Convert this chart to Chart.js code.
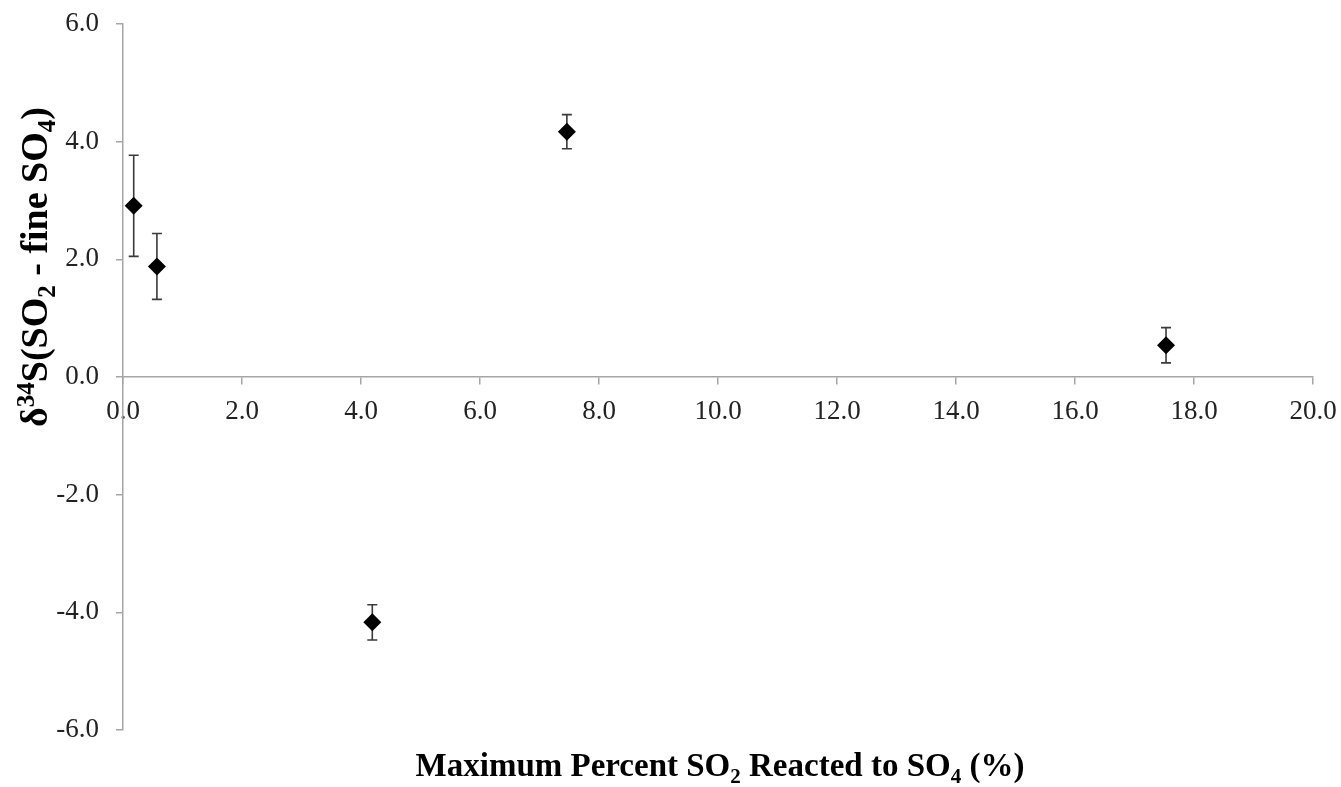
<!DOCTYPE html>
<html><head><meta charset="utf-8">
<script src="https://cdn.jsdelivr.net/npm/chart.js@4/dist/chart.umd.min.js"></script>
<style>html,body{margin:0;padding:0;background:#fff}#wrap{width:1341px;height:787px;position:relative}</style>
</head><body><div id="wrap"><canvas id="c"></canvas></div>
<script>
// Data
const xValues = [0.18, 0.57, 4.19, 7.46, 17.53];
const yValues = [2.91, 1.88, -4.17, 4.17, 0.54];
const yErrors = [0.86, 0.56, 0.30, 0.29, 0.30];
const xTitleParts = [["Maximum Percent SO", ""], ["2", "sub"], [" Reacted to SO", ""], ["4", "sub"], [" (%)", ""]];
const yTitleParts = [["δ", ""], ["34", "sup"], ["S(SO", ""], ["2", "sub"], [" - fine SO", ""], ["4", "sub"], [")", ""]];

const points = xValues.map((x, i) => ({x: x, y: yValues[i]}));
const FONT = '"Liberation Serif", "Times New Roman", serif';

function drawRich(ctx, parts, cx, cy, size) {
  const small = Math.round(size * 0.65);
  let total = 0;
  const widths = parts.map(p => {
    ctx.font = 'bold ' + (p[1] ? small : size) + 'px ' + FONT;
    const w = ctx.measureText(p[0]).width;
    total += w;
    return w;
  });
  let x = cx - total / 2;
  ctx.textBaseline = 'alphabetic';
  ctx.textAlign = 'left';
  parts.forEach((p, i) => {
    ctx.font = 'bold ' + (p[1] ? small : size) + 'px ' + FONT;
    let dy = 0;
    if (p[1] === 'sub') dy = size * 0.2;
    if (p[1] === 'sup') dy = -size * 0.34;
    ctx.fillText(p[0], x, cy + dy);
    x += widths[i];
  });
}

const errorBars = {
  id: 'errorBars',
  beforeDatasetsDraw(chart) {
    const ctx = chart.ctx, xs = chart.scales.x, ys = chart.scales.y;
    ctx.save();
    ctx.strokeStyle = '#3a3a3a';
    ctx.lineWidth = 1.6;
    xValues.forEach((xv, i) => {
      const px = xs.getPixelForValue(xv);
      const top = ys.getPixelForValue(yValues[i] + yErrors[i]);
      const bot = ys.getPixelForValue(yValues[i] - yErrors[i]);
      ctx.beginPath();
      ctx.moveTo(px, top); ctx.lineTo(px, bot);
      ctx.moveTo(px - 5, top); ctx.lineTo(px + 5, top);
      ctx.moveTo(px - 5, bot); ctx.lineTo(px + 5, bot);
      ctx.stroke();
    });
    ctx.restore();
  }
};

const titles = {
  id: 'titles',
  afterDraw(chart) {
    const ctx = chart.ctx;
    ctx.save();
    ctx.fillStyle = '#000';
    drawRich(ctx, xTitleParts, 720, 776, 33);
    ctx.translate(47, 267);
    ctx.rotate(-Math.PI / 2);
    drawRich(ctx, yTitleParts, 0, 0, 38);
    ctx.restore();
  }
};

new Chart(document.getElementById('c'), {
  type: 'scatter',
  data: {
    datasets: [{
      data: points,
      pointStyle: 'rectRot',
      pointRadius: 9,
      pointHoverRadius: 9,
      backgroundColor: '#000',
      borderColor: '#000',
      borderWidth: 0
    }]
  },
  options: {
    responsive: true,
    maintainAspectRatio: false,
    animation: false,
    events: [],
    layout: {padding: {top: 24, right: 28, bottom: 57, left: 0}},
    plugins: {legend: {display: false}, tooltip: {enabled: false}},
    scales: {
      x: {
        type: 'linear',
        position: {y: 0},
        min: 0, max: 20,
        ticks: {stepSize: 2, padding: 0, color: '#222', font: {family: FONT, size: 27, lineHeight: 2.07},
          callback: v => v.toFixed(1), maxRotation: 0, autoSkip: false},
        grid: {display: true, drawOnChartArea: false, drawTicks: true, tickLength: 7, color: '#a6a6a6', lineWidth: 1.5},
        border: {display: true, color: '#a6a6a6', width: 1.5}
      },
      y: {
        type: 'linear',
        position: 'left',
        min: -6, max: 6,
        afterFit: s => { s.width = 123; },
        ticks: {stepSize: 2, padding: 17, color: '#222', font: {family: FONT, size: 27, lineHeight: 0.5},
          callback: v => v.toFixed(1)},
        grid: {display: true, drawOnChartArea: false, drawTicks: true, tickLength: 7, color: '#a6a6a6', lineWidth: 1.5},
        border: {display: true, color: '#a6a6a6', width: 1.5}
      }
    }
  },
  plugins: [errorBars, titles]
});
</script>
</body></html>
